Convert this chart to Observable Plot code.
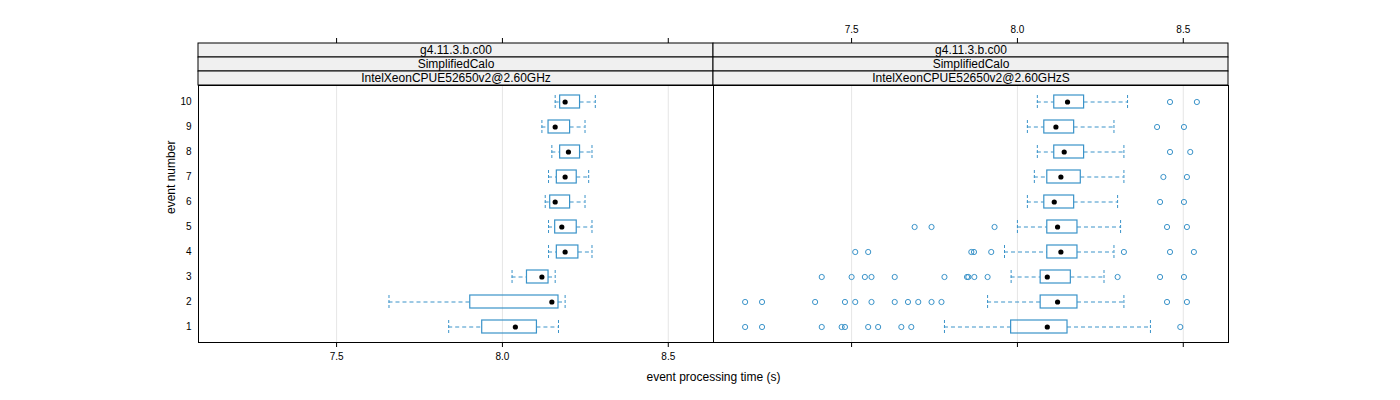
<!DOCTYPE html>
<html><head><meta charset="utf-8">
<script src="https://cdn.jsdelivr.net/npm/d3@7"></script>
<script src="https://cdn.jsdelivr.net/npm/@observablehq/plot@0.6"></script>
<style>body{margin:0;background:#fff}</style>
</head><body><div id="chart"></div>
<script>
const events = [1, 2, 3, 4, 5, 6, 7, 8, 9, 10];
const versions = ["g4.11.3.b.c00", "g4.11.3.b.c00"];
const tests = ["SimplifiedCalo", "SimplifiedCalo"];
const hosts = ["IntelXeonCPUE52650v2@2.60GHz", "IntelXeonCPUE52650v2@2.60GHzS"];
const xTicks = [7.5, 8.0, 8.5];
const xTitle = "event processing time (s)";
const yTitle = "event number";

// Left panel (events 1..10): whisker low, Q1, median, Q3, whisker high
const leftLo  = [7.838, 7.658, 8.029, 8.139, 8.139, 8.129, 8.139, 8.149, 8.119, 8.159];
const leftQ1  = [7.939, 7.903, 8.074, 8.164, 8.159, 8.144, 8.164, 8.174, 8.139, 8.174];
const leftMed = [8.039, 8.149, 8.119, 8.189, 8.179, 8.159, 8.189, 8.199, 8.159, 8.189];
const leftQ3  = [8.104, 8.169, 8.139, 8.229, 8.224, 8.204, 8.224, 8.234, 8.204, 8.234];
const leftHi  = [8.169, 8.189, 8.159, 8.270, 8.270, 8.249, 8.260, 8.270, 8.249, 8.280];
const leftOut = [[], [], [], [], [], [], [], [], [], []];

// Right panel
const rightLo  = [7.780, 7.910, 7.981, 7.961, 8.000, 8.030, 8.051, 8.060, 8.030, 8.060];
const rightQ1  = [7.981, 8.070, 8.070, 8.090, 8.090, 8.081, 8.090, 8.111, 8.081, 8.111];
const rightMed = [8.090, 8.121, 8.090, 8.131, 8.121, 8.111, 8.131, 8.141, 8.116, 8.151];
const rightQ3  = [8.151, 8.181, 8.161, 8.181, 8.181, 8.171, 8.191, 8.201, 8.171, 8.201];
const rightHi  = [8.401, 8.321, 8.261, 8.291, 8.311, 8.302, 8.321, 8.321, 8.291, 8.332];
const rightOut = [
  [7.179, 7.230, 7.410, 7.470, 7.480, 7.550, 7.580, 7.650, 7.680, 8.491],
  [7.179, 7.230, 7.390, 7.480, 7.511, 7.560, 7.630, 7.670, 7.701, 7.741, 7.771, 8.451, 8.511],
  [7.410, 7.500, 7.540, 7.560, 7.630, 7.780, 7.848, 7.852, 7.870, 7.910, 8.302, 8.430, 8.502],
  [7.511, 7.550, 7.861, 7.869, 7.921, 8.321, 8.460, 8.532],
  [7.690, 7.741, 7.931, 8.451, 8.511],
  [8.430, 8.502],
  [8.440, 8.511],
  [8.460, 8.521],
  [8.421, 8.502],
  [8.460, 8.541]
];

const panelStats = [
  {lo: leftLo, q1: leftQ1, med: leftMed, q3: leftQ3, hi: leftHi, out: leftOut},
  {lo: rightLo, q1: rightQ1, med: rightMed, q3: rightQ3, hi: rightHi, out: rightOut}
];

const rows = [];
const outliers = [];
panelStats.forEach((s, p) => {
  events.forEach((e, i) => {
    rows.push({panel: hosts[p], event: e, lo: s.lo[i], q1: s.q1[i], med: s.med[i], q3: s.q3[i], hi: s.hi[i]});
    s.out[i].forEach(v => outliers.push({panel: hosts[p], event: e, value: v}));
  });
});
const panels = hosts.map((h, p) => ({panel: h, version: versions[p], test: tests[p], host: h}));

// lattice-style range: data extent padded by 7%
const allVals = rows.flatMap(d => [d.lo, d.hi]).concat(outliers.map(d => d.value));
const [vmin, vmax] = d3.extent(allVals);
const pad = (vmax - vmin) * 0.07;

const blue = "#3a93c9";
const dash = "4,3";
const fmt = d3.format(".1f");

const chart = Plot.plot({
  width: 1400,
  height: 400,
  marginLeft: 197,
  marginRight: 172,
  marginTop: 85,
  marginBottom: 58,
  style: {fontFamily: "'Liberation Sans', Arial, Helvetica, sans-serif", fontSize: "10px", color: "#000", background: "#fff"},
  fx: {domain: hosts, padding: 0, axis: null, label: null},
  x: {domain: [vmin - pad, vmax + pad], label: null},
  y: {type: "band", domain: [...events].reverse(), paddingInner: 0.5, paddingOuter: 0.35, label: null},
  marks: [
    Plot.gridX(xTicks, {stroke: "#e6e6e6", strokeOpacity: 1}),
    Plot.ruleY(rows, {fx: "panel", y: "event", x1: "lo", x2: "q1", stroke: blue, strokeDasharray: dash}),
    Plot.ruleY(rows, {fx: "panel", y: "event", x1: "q3", x2: "hi", stroke: blue, strokeDasharray: dash}),
    Plot.tickX(rows, {fx: "panel", y: "event", x: "lo", stroke: blue, strokeDasharray: "3,2"}),
    Plot.tickX(rows, {fx: "panel", y: "event", x: "hi", stroke: blue, strokeDasharray: "3,2"}),
    Plot.barX(rows, {fx: "panel", y: "event", x1: "q1", x2: "q3", fill: "none", stroke: blue, strokeWidth: 1.2}),
    Plot.dot(rows, {fx: "panel", y: "event", x: "med", fill: "#000", r: 2.6}),
    Plot.dot(outliers, {fx: "panel", y: "event", x: "value", stroke: blue, fill: "none", r: 2.6, strokeWidth: 1}),
    Plot.frame({stroke: "#000"}),
    // strips
    Plot.rect(panels, {fx: "panel", fill: "#f0f0f0", stroke: "#000", insetTop: -42, insetBottom: 285}),
    Plot.rect(panels, {fx: "panel", fill: "#f0f0f0", stroke: "#000", insetTop: -28, insetBottom: 271}),
    Plot.rect(panels, {fx: "panel", fill: "#f0f0f0", stroke: "#000", insetTop: -14, insetBottom: 257}),
    Plot.text(panels, {fx: "panel", text: "version", frameAnchor: "top", lineAnchor: "middle", dy: -35, fontSize: 12}),
    Plot.text(panels, {fx: "panel", text: "test", frameAnchor: "top", lineAnchor: "middle", dy: -21, fontSize: 12}),
    Plot.text(panels, {fx: "panel", text: "host", frameAnchor: "top", lineAnchor: "middle", dy: -7, fontSize: 12}),
    // axes
    Plot.axisX(xTicks, {anchor: "bottom", facetAnchor: "left", tickSize: 5, tickPadding: 5, tickFormat: fmt, label: null}),
    Plot.axisX(xTicks, {anchor: "bottom", facetAnchor: "right", tickSize: 5, fill: "none", label: null}),
    Plot.axisX(xTicks, {anchor: "top", facetAnchor: "right", tickSize: 5, tickPadding: 5, tickFormat: fmt, dy: -43, label: null}),
    Plot.axisX(xTicks, {anchor: "top", facetAnchor: "left", tickSize: 5, fill: "none", dy: -43, label: null}),
    Plot.axisY({anchor: "left", facetAnchor: "left", tickSize: 0, tickPadding: 7, label: null}),
    Plot.text([xTitle], {fx: [hosts[0]], text: d => d, frameAnchor: "bottom-right", textAnchor: "middle", dy: 38, fontSize: 12}),
    Plot.text([yTitle], {fx: [hosts[0]], text: d => d, frameAnchor: "left", rotate: -90, dx: -27, fontSize: 12})
  ]
});
document.getElementById("chart").appendChild(chart);
</script>
</body></html>
